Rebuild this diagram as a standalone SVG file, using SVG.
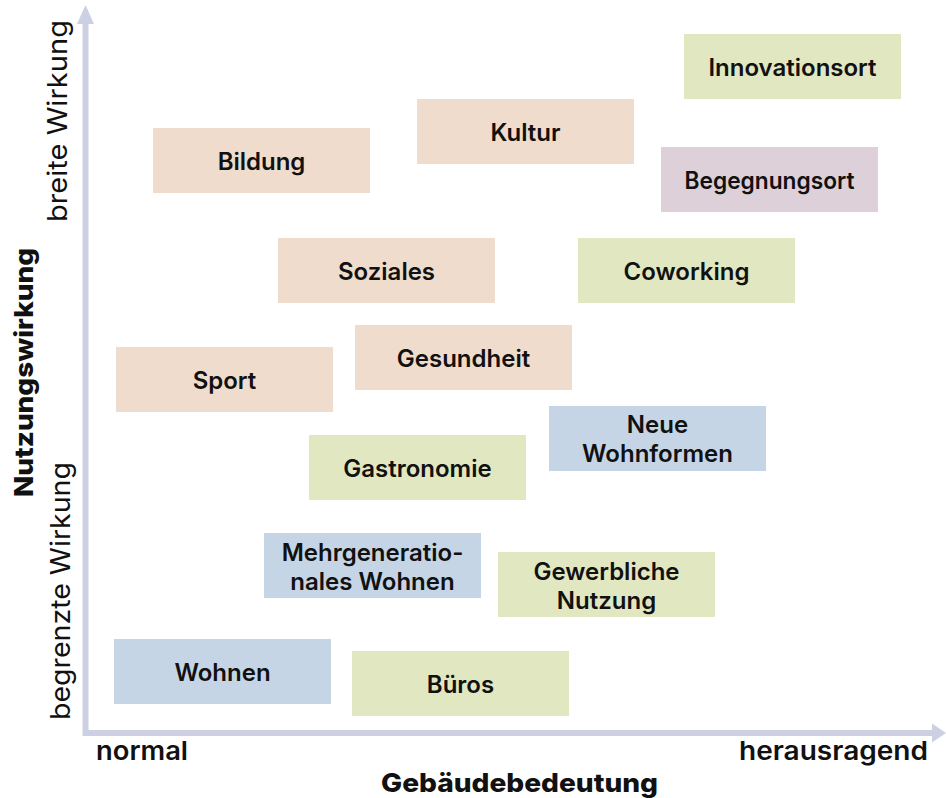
<svg xmlns="http://www.w3.org/2000/svg" width="946" height="798" viewBox="0 0 946 798">
<style>
.box{stroke:none}
.peach{fill:#f0dccc}
.green{fill:#e1e7c0}
.blue{fill:#c6d5e5}
.purple{fill:#ddd0d8}
.lbl{font-family:Inter,"Liberation Sans",sans-serif;font-size:24px;font-weight:600;fill:#111;text-anchor:middle}
.axl{font-family:Inter,"Liberation Sans",sans-serif;font-size:26px;font-weight:600;fill:#111}
.axr{font-family:Inter,"Liberation Sans",sans-serif;font-size:27px;font-weight:400;fill:#111;text-anchor:middle}
.axt{font-family:Inter,"Liberation Sans",sans-serif;font-size:26px;font-weight:800;fill:#111;text-anchor:middle}
</style>
<g id="axes">
<line x1="85.5" y1="22" x2="85.5" y2="736" stroke="#cdcfe2" stroke-width="6"/>
<polygon points="85.5,5 77,24 94,24" fill="#cdcfe2"/>
<line x1="83" y1="733" x2="932" y2="733" stroke="#cdcfe2" stroke-width="6"/>
<polygon points="946,733 932,723.5 932,742.5" fill="#cdcfe2"/>
</g>
<g id="axis-labels">
<text class="axl" x="96" y="760" textLength="92" lengthAdjust="spacingAndGlyphs">normal</text>
<text class="axl" x="739" y="760" textLength="189" lengthAdjust="spacingAndGlyphs">herausragend</text>
<text class="axt" x="519.5" y="792" textLength="277" lengthAdjust="spacingAndGlyphs">Gebäudebedeutung</text>
<text class="axr" transform="translate(67,121) rotate(-90)" textLength="202" lengthAdjust="spacingAndGlyphs">breite Wirkung</text>
<text class="axr" transform="translate(70,591) rotate(-90)" textLength="258" lengthAdjust="spacingAndGlyphs">begrenzte Wirkung</text>
<text class="axt" transform="translate(33,372.5) rotate(-90)" textLength="249" lengthAdjust="spacingAndGlyphs">Nutzungswirkung</text>
</g>
<g id="innovationsort"><rect class="box green" x="684" y="34" width="217" height="65"/><text class="lbl" x="792.5" y="75.5">Innovationsort</text></g>
<g id="kultur"><rect class="box peach" x="417" y="99" width="217" height="65"/><text class="lbl" x="525.5" y="140.5">Kultur</text></g>
<g id="bildung"><rect class="box peach" x="153" y="128" width="217" height="65"/><text class="lbl" x="261.5" y="169.5">Bildung</text></g>
<g id="begegnungsort"><rect class="box purple" x="661" y="147" width="217" height="65"/><text class="lbl" x="769.5" y="188.5" textLength="170" lengthAdjust="spacingAndGlyphs">Begegnungsort</text></g>
<g id="soziales"><rect class="box peach" x="278" y="238" width="217" height="65"/><text class="lbl" x="386.5" y="279.5">Soziales</text></g>
<g id="coworking"><rect class="box green" x="578" y="238" width="217" height="65"/><text class="lbl" x="686.5" y="279.5">Coworking</text></g>
<g id="gesundheit"><rect class="box peach" x="355" y="325" width="217" height="65"/><text class="lbl" x="463.5" y="366.5">Gesundheit</text></g>
<g id="sport"><rect class="box peach" x="116" y="347" width="217" height="65"/><text class="lbl" x="224.5" y="388.5">Sport</text></g>
<g id="neue-wohnformen"><rect class="box blue" x="549" y="406" width="217" height="65"/><text class="lbl" x="657.5" y="433">Neue</text><text class="lbl" x="657.5" y="462">Wohnformen</text></g>
<g id="gastronomie"><rect class="box green" x="309" y="435" width="217" height="65"/><text class="lbl" x="417.5" y="476.5">Gastronomie</text></g>
<g id="mehrgenerationales-wohnen"><rect class="box blue" x="264" y="533" width="217" height="65"/><text class="lbl" x="372.5" y="561">Mehrgeneratio-</text><text class="lbl" x="372.5" y="590">nales Wohnen</text></g>
<g id="gewerbliche-nutzung"><rect class="box green" x="498" y="552" width="217" height="65"/><text class="lbl" x="606.5" y="580">Gewerbliche</text><text class="lbl" x="606.5" y="609">Nutzung</text></g>
<g id="wohnen"><rect class="box blue" x="114" y="639" width="217" height="65"/><text class="lbl" x="222.5" y="680.5">Wohnen</text></g>
<g id="bueros"><rect class="box green" x="352" y="651" width="217" height="65"/><text class="lbl" x="460.5" y="692.5">Büros</text></g>
</svg>
